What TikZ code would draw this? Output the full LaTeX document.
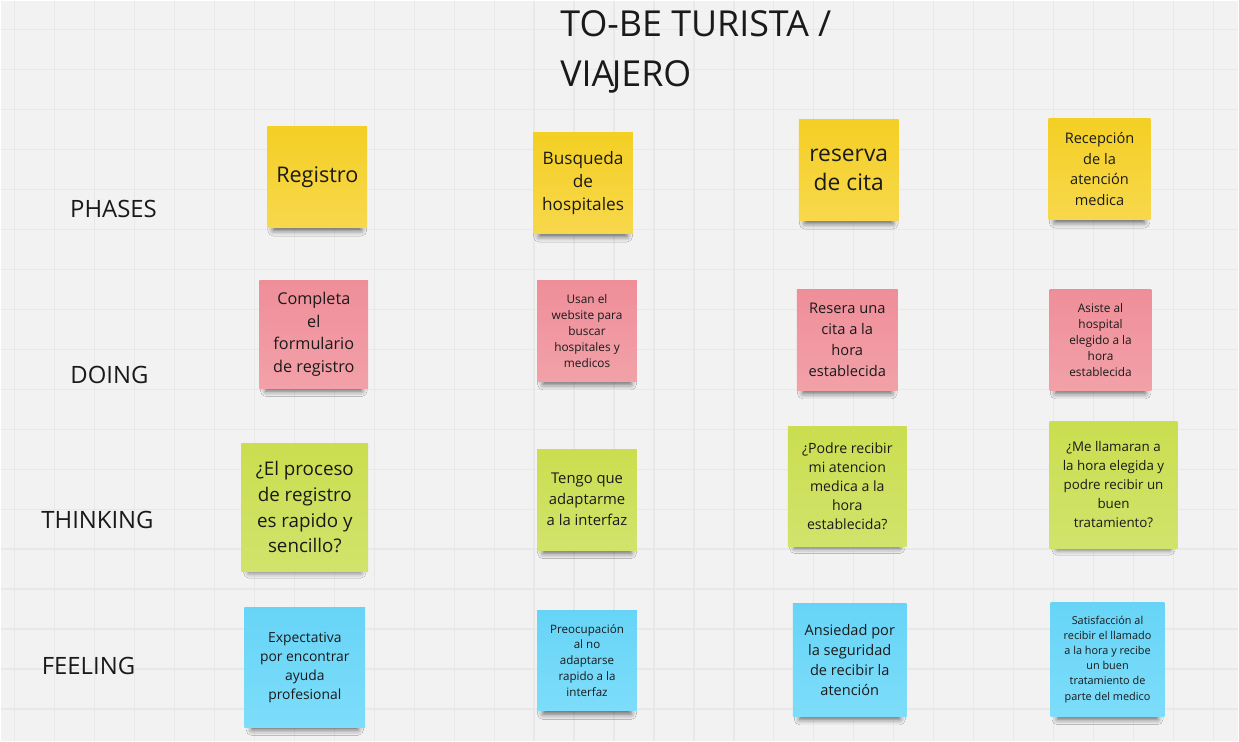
\documentclass[tikz,border=0pt]{standalone}
\usepackage{fontspec}
\setmainfont{Open Sans}
\usepackage{tikz}
\usetikzlibrary{shadows.blur}

\definecolor{board}{HTML}{F2F2F2}
\definecolor{gridgray}{HTML}{E8E8E8}
\definecolor{ink}{HTML}{1A1A1A}
\definecolor{yellowtop}{HTML}{F4CF24}
\definecolor{yellowbot}{HTML}{F7D84C}
\definecolor{pinktop}{HTML}{EF8E99}
\definecolor{pinkbot}{HTML}{F2A1A9}
\definecolor{greentop}{HTML}{CADE4F}
\definecolor{greenbot}{HTML}{D2E36C}
\definecolor{bluetop}{HTML}{67D4F7}
\definecolor{bluebot}{HTML}{7DDDFA}

\newcommand{\notesize}[2]{\fontsize{#1}{#2}\selectfont}

\begin{document}
\begin{tikzpicture}[x=0.02cm, y=-0.02cm,
    sticky/.style={align=center, inner sep=0pt, text=ink,
      blur shadow={shadow xshift=0pt, shadow yshift=-6pt, shadow scale=0.88,
        shadow opacity=60, shadow blur radius=3.5pt}},
    yellownote/.style={sticky, top color=yellowtop, bottom color=yellowbot},
    pinknote/.style={sticky, top color=pinktop, bottom color=pinkbot},
    greennote/.style={sticky, top color=greentop, bottom color=greenbot},
    bluenote/.style={sticky, top color=bluetop, bottom color=bluebot},
    rowlabel/.style={text=ink, inner sep=0pt, font=\notesize{13.6pt}{16pt}}]

  % board and grid
  \fill[board] (0,0) rectangle (1239,741);
  \foreach \gx in {14,54,...,1239}
    \draw[gridgray, line width=0.7pt] (\gx,0) -- (\gx,741);
  \foreach \gy in {29,69,...,741}
    \draw[gridgray, line width=0.7pt] (0,\gy) -- (1239,\gy);

  % title
  \node[anchor=north west, inner sep=0pt, align=left, text=ink,
    font=\notesize{20.4pt}{28.3pt}] (title) at (560,10)
    {TO-BE TURISTA /\\VIA\kern-0.07em JERO};

  % row labels
  \node[rowlabel] (phases) at (113,209) {PHASES};
  \node[rowlabel] (doing) at (109,375) {DOING};
  \node[rowlabel] (thinking) at (97,520) {THINKING};
  \node[rowlabel] (feeling) at (88,666) {FEELING};

  % phases
  \node[yellownote, minimum width=2cm, minimum height=2.02cm,
    font=\notesize{12.3pt}{16pt}] (reg) at (317,176.5) {Registro};
  \node[yellownote, minimum width=2cm, minimum height=2.02cm,
    font=\notesize{9.8pt}{13.3pt}] (busq) at (583,182.5)
    {Busqueda\\de\\hospitales};
  \node[yellownote, minimum width=2cm, minimum height=2.02cm,
    font=\notesize{13pt}{17pt}] (reserva) at (849,169.5)
    {reserva\\de cita};
  \node[yellownote, minimum width=2.04cm, minimum height=2.02cm,
    font=\notesize{8.3pt}{11.9pt}] (recep) at (1100,168.5)
    {Recepción\\de la\\atención\\medica};

  % doing
  \node[pinknote, minimum width=2.18cm, minimum height=2.16cm,
    font=\notesize{9.25pt}{12.8pt}] (completa) at (313.5,334)
    {Completa\\el\\formulario\\de registro};
  \node[pinknote, minimum width=2cm, minimum height=2.02cm,
    font=\notesize{6.75pt}{9.07pt}] (usan) at (587,330.5)
    {Usan el\\website para\\buscar\\hospitales y\\medicos};
  \node[pinknote, minimum width=2.02cm, minimum height=2.02cm,
    font=\notesize{8.35pt}{11.9pt}] (resera) at (847.5,339.5)
    {Resera una\\cita a la\\hora\\establecida};
  \node[pinknote, minimum width=2.04cm, minimum height=2.02cm,
    font=\notesize{6.75pt}{9.07pt}] (asiste) at (1101,339.5)
    {Asiste al\\hospital\\elegido a la\\hora\\establecida};

  % thinking
  \node[greennote, minimum width=2.54cm, minimum height=2.56cm,
    font=\notesize{10.7pt}{14.7pt}] (proceso) at (304.5,507)
    {¿El proceso\\de registro\\es rapido y\\sencillo?};
  \node[greennote, minimum width=2cm, minimum height=2.02cm,
    font=\notesize{8.45pt}{11.9pt}] (tengo) at (587,499.5)
    {Tengo que\\adaptarme\\a la interfaz};
  \node[greennote, minimum width=2.38cm, minimum height=2.4cm,
    font=\notesize{8.05pt}{10.8pt}] (podre) at (847.5,486)
    {¿Podre recibir\\mi atencion\\medica a la\\hora\\establecida?};
  \node[greennote, minimum width=2.56cm, minimum height=2.54cm,
    font=\notesize{7.6pt}{10.8pt}] (llamaran) at (1114,484.5)
    {¿Me llamaran a\\la hora elegida y\\podre recibir un\\buen\\tratamiento?};

  % feeling
  \node[bluenote, minimum width=2.42cm, minimum height=2.42cm,
    font=\notesize{7.9pt}{10.9pt}] (expect) at (304.5,667.5)
    {Expectativa\\por encontrar\\ayuda\\profesional};
  \node[bluenote, minimum width=2cm, minimum height=2.02cm,
    font=\notesize{6.6pt}{9.07pt}] (preoc) at (587,660.5)
    {Preocupación\\al no\\adaptarse\\rapido a la\\interfaz};
  \node[bluenote, minimum width=2.28cm, minimum height=2.28cm,
    font=\notesize{8.3pt}{11.3pt}] (ansiedad) at (850,660)
    {Ansiedad por\\la seguridad\\de recibir la\\atención};
  \node[bluenote, minimum width=2.28cm, minimum height=2.3cm,
    font=\notesize{6.2pt}{8.6pt}] (satisf) at (1108,659.5)
    {Satisfacción al\\recibir el llamado\\a la hora y recibe\\un buen\\tratamiento de\\parte del medico};
\end{tikzpicture}
\end{document}
